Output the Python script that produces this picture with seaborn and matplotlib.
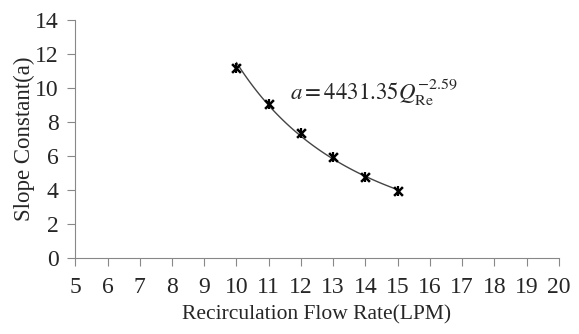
import numpy as np
import pandas as pd
import matplotlib
matplotlib.use("Agg")
import matplotlib.pyplot as plt
import seaborn as sns

flow = [10, 11, 12, 13, 14, 15]
slope = [11.2, 9.05, 7.35, 5.95, 4.78, 3.92]
x_ticks = list(range(5, 21))
y_ticks = list(range(0, 15, 2))

sns.set_style("white")
plt.rcParams['font.family'] = ['Liberation Serif', 'DejaVu Serif']
plt.rcParams['mathtext.fontset'] = 'stix'

fig, ax = plt.subplots(figsize=(5.79, 3.34), dpi=100)
fig.subplots_adjust(left=0.13, right=0.965, bottom=0.228, top=0.94)

df = pd.DataFrame({"flow": flow, "slope": slope})
# power-law trendline fitted to the data
b, lna = np.polyfit(np.log(flow), np.log(slope), 1)
xf = np.linspace(min(flow), max(flow), 100)
fit = pd.DataFrame({"flow": xf, "slope": np.exp(lna) * xf ** b})
sns.lineplot(data=fit, x="flow", y="slope", ax=ax, color="#444444", lw=1.0)
sns.scatterplot(data=df, x="flow", y="slope", ax=ax, marker="x", s=40,
                color="black", linewidth=1.8, zorder=3)
sns.scatterplot(data=df, x="flow", y="slope", ax=ax, marker="|", s=45,
                color="black", linewidth=1.6, zorder=3)

ax.text(11.65, 9.75, r"$a = 4431.35Q_{\mathrm{Re}}^{-2.59}$", fontsize=16.5, ha="left", va="center")

ax.set_xlim(5, 20)
ax.set_ylim(0, 14)
ax.set_xticks(x_ticks)
ax.set_yticks(y_ticks)
ax.tick_params(axis="both", labelsize=17, length=6, width=0.8, color="#888888", direction="out",
               left=True, bottom=True)
ax.tick_params(axis="x", pad=8)
ax.tick_params(axis="y", pad=6)
for s in ["top", "right"]:
    ax.spines[s].set_visible(False)
for s in ["left", "bottom"]:
    ax.spines[s].set_color("#888888")
    ax.spines[s].set_linewidth(0.8)
ax.set_xlabel("Recirculation Flow Rate(LPM)", fontsize=15.5, labelpad=5)
ax.set_ylabel("Slope Constant(a)", fontsize=16.5, labelpad=0)

fig.savefig("out.png", dpi=100)
